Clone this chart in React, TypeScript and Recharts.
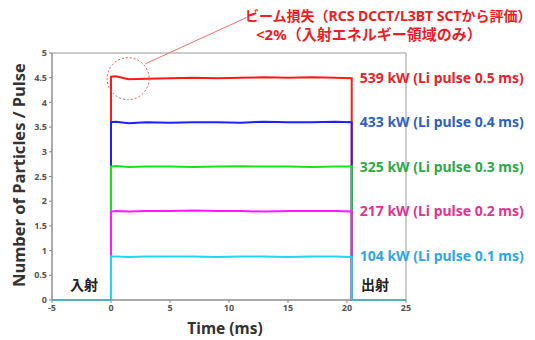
import { LineChart, Line, XAxis, YAxis, ReferenceArea, ReferenceDot, ReferenceLine } from "recharts";

// plateau samples (ms); beam on 0..~20.4 ms
const plateauTimes = [0, 0.4, 1.5, 3, 5, 7, 9, 11, 13, 15, 17, 19, 20.4];
const redLevels = [4.52, 4.53, 4.47, 4.48, 4.49, 4.5, 4.49, 4.5, 4.51, 4.5, 4.51, 4.5, 4.49];
const blueLevels = [3.6, 3.61, 3.58, 3.6, 3.59, 3.6, 3.6, 3.59, 3.61, 3.6, 3.6, 3.61, 3.6];
const greenLevels = [2.7, 2.71, 2.69, 2.7, 2.7, 2.69, 2.7, 2.71, 2.7, 2.7, 2.69, 2.7, 2.7];
const magentaLevels = [1.79, 1.8, 1.79, 1.8, 1.8, 1.81, 1.8, 1.8, 1.79, 1.8, 1.8, 1.8, 1.79];
const cyanLevels = [0.88, 0.88, 0.87, 0.88, 0.88, 0.88, 0.87, 0.88, 0.88, 0.87, 0.88, 0.88, 0.87];

const xTicks = [-5, 0, 5, 10, 15, 20, 25];
const yTicks = [0, 0.5, 1, 1.5, 2, 2.5, 3, 3.5, 4, 4.5, 5];

const seriesNames = ["539 kW", "433 kW", "325 kW", "217 kW", "104 kW"];
const pulseLabels = ["539 kW (Li pulse 0.5 ms)", "433 kW (Li pulse 0.4 ms)", "325 kW (Li pulse 0.3 ms)", "217 kW (Li pulse 0.2 ms)", "104 kW (Li pulse 0.1 ms)"];
const labelLevels = [4.5, 3.6, 2.7, 1.8, 0.88];
const lineColors = ["#ff1a1a", "#1f1fff", "#1ee01e", "#ff1aff", "#1ed8f2"];
const textColors = ["#e8232b", "#2f5fc0", "#2ea84a", "#e33390", "#2fa6e2"];
const allLevels = [redLevels, blueLevels, greenLevels, magentaLevels, cyanLevels];

const buildTrace = (levels: number[]) => [
  { t: -5, v: 0 },
  { t: 0, v: 0 },
  ...plateauTimes.map((t, i) => ({ t, v: levels[i] })),
  { t: 20.4, v: 0 },
  { t: 25, v: 0 },
];

const tickStyle = { fontSize: 9, fill: "#555", fontWeight: 700 };
const font = "'Noto Sans', 'Noto Sans CJK JP', sans-serif";

export default function App() {
  return (
    <div style={{ position: "absolute", left: 0, top: 0, width: 535, height: 340, background: "#fff", fontFamily: font }}>
      <LineChart width={535} height={340} margin={{ top: 53, right: 129, left: 32, bottom: 22 }} style={{ fontFamily: font }}>
        <XAxis
          dataKey="t"
          type="number"
          domain={[-5, 25]}
          ticks={xTicks}
          tick={tickStyle}
          tickSize={3}
          stroke="#888"
          height={18}
          allowDuplicatedCategory={false}
        />
        <YAxis
          type="number"
          domain={[0, 5]}
          ticks={yTicks}
          tick={tickStyle}
          tickSize={3}
          stroke="#888"
          width={20}
          tickFormatter={(v: number) => String(v)}
        />
        <ReferenceArea x1={-5} x2={25} y1={0} y2={5} fill="none" stroke="#999" strokeWidth={1} />
        {allLevels.map((lv, i) => (
          <Line
            key={seriesNames[i]}
            data={buildTrace(lv)}
            dataKey="v"
            name={seriesNames[i]}
            type="linear"
            stroke={lineColors[i]}
            strokeWidth={2}
            dot={false}
            isAnimationActive={false}
          />
        ))}
        {labelLevels.map((y, i) => (
          <ReferenceDot
            key={pulseLabels[i]}
            x={20.4}
            y={y}
            r={0}
            ifOverflow="visible"
            label={{ value: pulseLabels[i], position: "right", offset: 8, fill: textColors[i], fontSize: 14, fontWeight: 700 }}
          />
        ))}
        <ReferenceDot x={1.45} y={4.48} r={21} fill="none" stroke="#f05050" strokeDasharray="2 2" strokeWidth={1} ifOverflow="visible" />
        <ReferenceLine
          segment={[{ x: 2.9, y: 4.78 }, { x: 11.5, y: 5.72 }]}
          stroke="#f07070"
          strokeWidth={1}
          ifOverflow="visible"
        />
      </LineChart>
      <div style={{ position: "absolute", left: 245, top: 6, color: "#f01c24", fontSize: 14, fontWeight: 700, whiteSpace: "nowrap", lineHeight: "20px" }}>
        ビーム損失（RCS DCCT/L3BT SCTから評価）
      </div>
      <div style={{ position: "absolute", left: 256, top: 24, color: "#f01c24", fontSize: 15, fontWeight: 700, whiteSpace: "nowrap", lineHeight: "20px" }}>
        &lt;2%（入射エネルギー領域のみ）
      </div>
      <div style={{ position: "absolute", left: 70, top: 274, color: "#222", fontSize: 14, fontWeight: 700 }}>入射</div>
      <div style={{ position: "absolute", left: 361, top: 274, color: "#222", fontSize: 14, fontWeight: 700 }}>出射</div>
      <div
        style={{
          position: "absolute",
          left: 18,
          top: 175,
          transform: "translate(-50%, -50%) rotate(-90deg)",
          fontSize: 16.5,
          fontWeight: 700,
          color: "#333",
          whiteSpace: "nowrap",
        }}
      >
        Number of Particles / Pulse
      </div>
      <div style={{ position: "absolute", left: 225, top: 328, transform: "translate(-50%, -50%)", fontSize: 15.5, fontWeight: 700, color: "#333", whiteSpace: "nowrap" }}>
        Time (ms)
      </div>
    </div>
  );
}
